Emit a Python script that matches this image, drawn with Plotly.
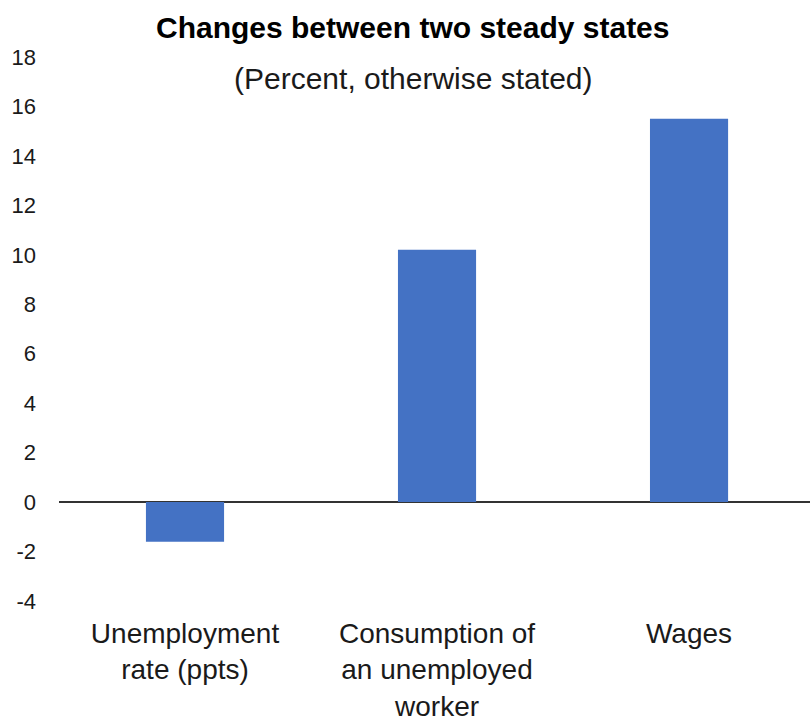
import plotly.graph_objects as go

# Data
categories = ["Unemployment<br>rate (ppts)", "Consumption of<br>an unemployed<br>worker", "Wages"]
changes = [-1.6, 10.2, 15.5]
y_ticks = [-4, -2, 0, 2, 4, 6, 8, 10, 12, 14, 16, 18]

BAR_COLOR = "#4472C4"
FONT = "Liberation Sans, Arial, sans-serif"

fig = go.Figure(
    go.Bar(
        x=categories,
        y=changes,
        width=0.31,
        marker=dict(color=BAR_COLOR, line=dict(width=0)),
        hoverinfo="x+y",
    )
)

fig.update_layout(
    width=810,
    height=722,
    margin=dict(l=59, r=0, t=57, b=121),
    paper_bgcolor="white",
    plot_bgcolor="white",
    showlegend=False,
    font=dict(family=FONT, color="#1a1a1a"),
    xaxis=dict(
        type="category",
        range=[-0.5, 2.48],
        automargin=False,
        showgrid=False,
        showline=False,
        zeroline=False,
        ticks="",
        tickfont=dict(size=28, color="#1a1a1a"),
        ticklabelstandoff=13,
    ),
    yaxis=dict(
        range=[-4, 18],
        automargin=False,
        tickvals=y_ticks,
        ticktext=[str(v) for v in y_ticks],
        showgrid=False,
        showline=False,
        zeroline=True,
        zerolinecolor="#333333",
        zerolinewidth=2,
        ticks="",
        tickfont=dict(size=22, color="#1a1a1a"),
        ticklabelstandoff=22,
    ),
    annotations=[
        dict(
            text="<b>Changes between two steady states</b>",
            xref="paper", yref="paper", x=0.472, y=1.055,
            xanchor="center", yanchor="middle", showarrow=False,
            font=dict(size=30, family=FONT, color="#000000"),
        ),
        dict(
            text="(Percent, otherwise stated)",
            xref="paper", yref="paper", x=0.472, y=0.961,
            xanchor="center", yanchor="middle", showarrow=False,
            font=dict(size=30, family=FONT, color="#1a1a1a"),
        ),
    ],
)

fig.write_html("out.html")
